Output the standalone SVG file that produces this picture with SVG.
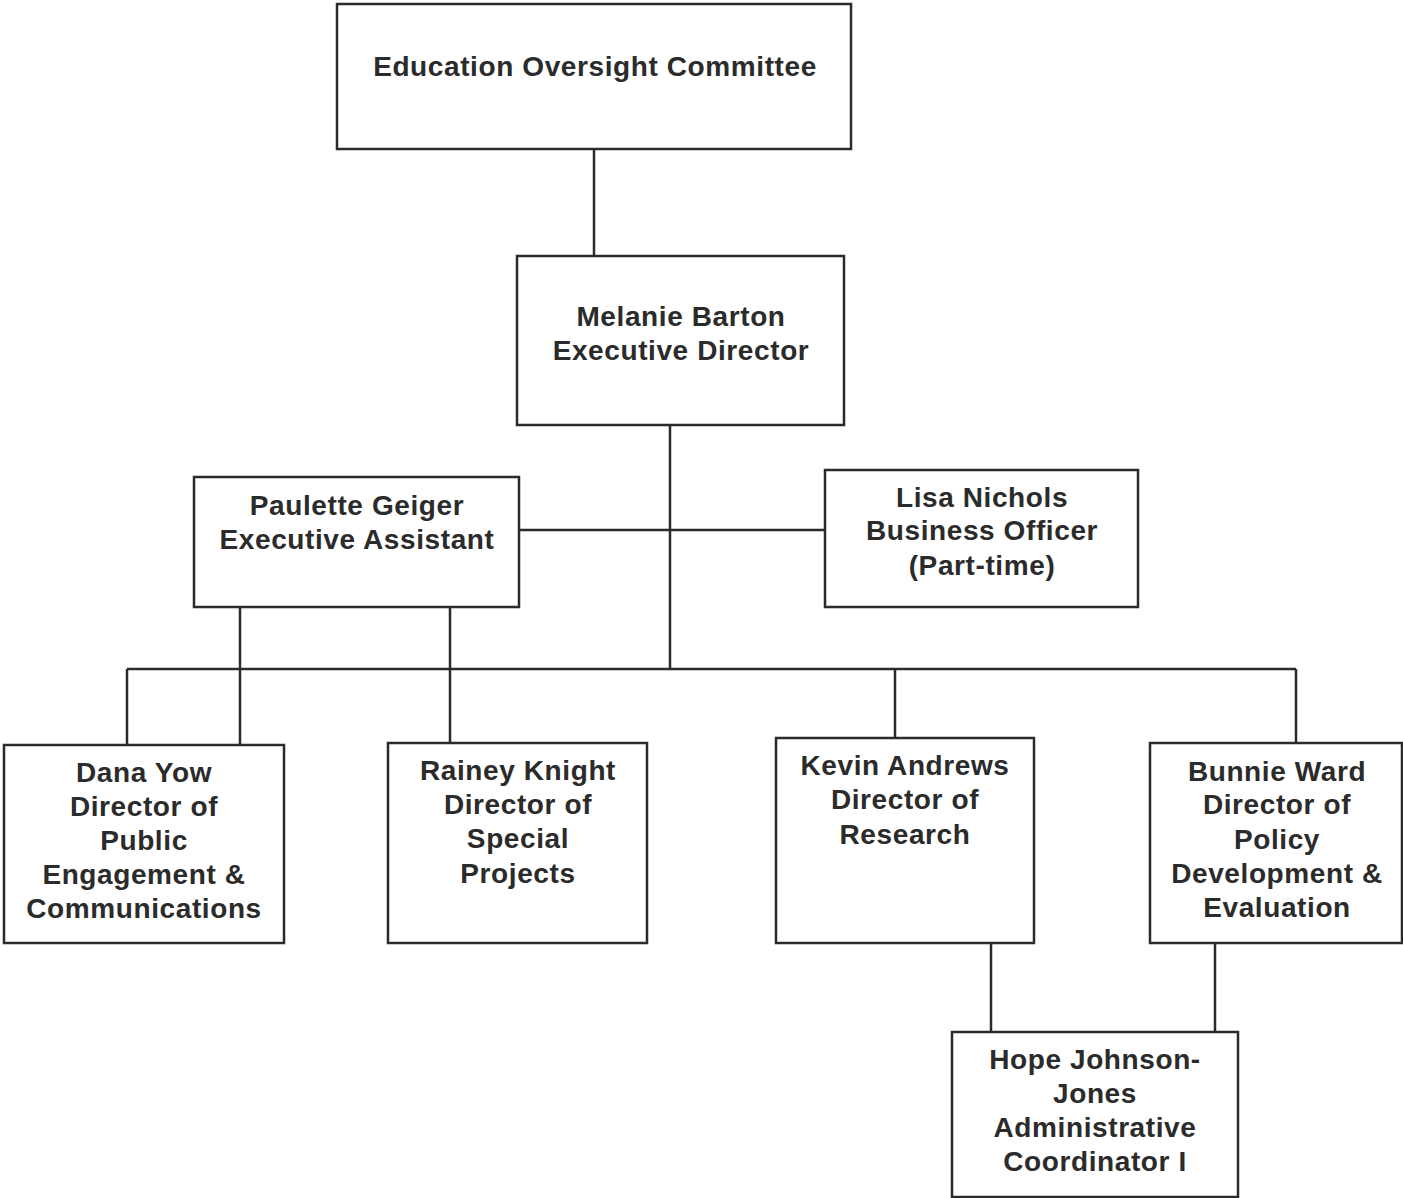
<svg xmlns="http://www.w3.org/2000/svg" width="1403" height="1198" viewBox="0 0 1403 1198">
<style>
rect{fill:#fff;stroke:#2b2b2b;stroke-width:2.5}
.c line{stroke:#2b2b2b;stroke-width:2.5}
text{font-family:"Liberation Sans",Arial,sans-serif;font-weight:bold;font-size:28px;letter-spacing:0.6px;fill:#2b2b2b;text-anchor:middle}
</style>
<rect width="1403" height="1198" style="stroke:none"/>
<g class="c" id="connectors">
<line x1="594" y1="149" x2="594" y2="256"/>
<line x1="670" y1="425" x2="670" y2="669"/>
<line x1="519" y1="530" x2="825" y2="530"/>
<line x1="127" y1="669" x2="1296" y2="669"/>
<line x1="127" y1="669" x2="127" y2="745"/>
<line x1="240" y1="607" x2="240" y2="745"/>
<line x1="450" y1="607" x2="450" y2="743"/>
<line x1="895" y1="669" x2="895" y2="738"/>
<line x1="1296" y1="669" x2="1296" y2="743"/>
<line x1="991" y1="943" x2="991" y2="1032"/>
<line x1="1215" y1="943" x2="1215" y2="1032"/>
</g>
<g id="eoc"><rect x="337" y="4" width="514" height="145"/><text x="595" y="76">Education Oversight Committee</text></g>
<g id="barton"><rect x="517" y="256" width="327" height="169"/><text x="681" y="326">Melanie Barton</text><text x="681" y="360">Executive Director</text></g>
<g id="geiger"><rect x="194" y="477" width="325" height="130"/><text x="357" y="515">Paulette Geiger</text><text x="357" y="549">Executive Assistant</text></g>
<g id="nichols"><rect x="825" y="470" width="313" height="137"/><text x="982" y="507">Lisa Nichols</text><text x="982" y="540">Business Officer</text><text x="982" y="575">(Part-time)</text></g>
<g id="yow"><rect x="4" y="745" width="280" height="198"/><text x="144" y="782">Dana Yow</text><text x="144" y="816">Director of</text><text x="144" y="850">Public</text><text x="144" y="884">Engagement &amp;</text><text x="144" y="918">Communications</text></g>
<g id="knight"><rect x="388" y="743" width="259" height="200"/><text x="518" y="780">Rainey Knight</text><text x="518" y="814">Director of</text><text x="518" y="848">Special</text><text x="518" y="883">Projects</text></g>
<g id="andrews"><rect x="776" y="738" width="258" height="205"/><text x="905" y="775">Kevin Andrews</text><text x="905" y="809">Director of</text><text x="905" y="844">Research</text></g>
<g id="ward"><rect x="1150" y="743" width="252" height="200"/><text x="1277" y="781">Bunnie Ward</text><text x="1277" y="814">Director of</text><text x="1277" y="849">Policy</text><text x="1277" y="883">Development &amp;</text><text x="1277" y="917">Evaluation</text></g>
<g id="johnson"><rect x="952" y="1032" width="286" height="165"/><text x="1095" y="1069">Hope Johnson-</text><text x="1095" y="1103">Jones</text><text x="1095" y="1137">Administrative</text><text x="1095" y="1171">Coordinator I</text></g>
</svg>
